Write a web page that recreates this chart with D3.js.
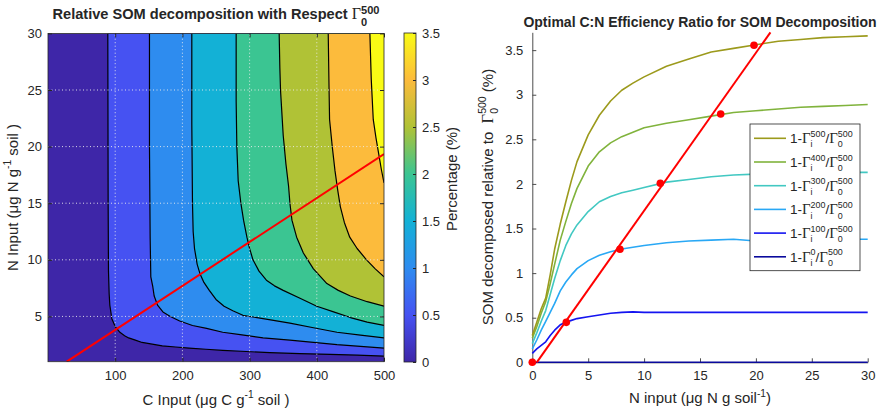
<!DOCTYPE html>
<html>
<head>
<meta charset="utf-8">
<script src="https://cdn.jsdelivr.net/npm/d3@7"></script>
<style>
  body { margin: 0; background: #fff; }
  text { font-family: "Liberation Sans", Arial, sans-serif; fill: #262626; white-space: pre; }
</style>
</head>
<body>
<svg id="chart"></svg>
<script>
const W = 896, H = 411;

// ---- left panel: contour lines, [C input, N input]
const contour05 = [[89,30],[89.5,15],[90,9],[91,7],[92,6],[95,4.8],[100,4.1],[107,3.6],[114,3.3],[120,3.1],[130,2.9],[140,2.7],[155,2.55],[170,2.4],[190,2.3],[210,2.2],[235,2.1],[260,2.0],[295,1.9],[330,1.8],[375,1.72],[420,1.65],[460,1.58],[500,1.5]];
const contour10 = [[151,30],[151,20],[152,12],[153,8.5],[156,7.6],[158,6.8],[163,6],[171,5.4],[182,5],[196,4.6],[215,4.2],[236,3.95],[260,3.6],[286,3.4],[320,3.1],[360,2.9],[395,2.7],[430,2.5],[465,2.35],[500,2.2]];
const contour15 = [[214,30],[214,22],[215,15],[216,12.5],[218,11],[222,9.6],[226,8.8],[232,8],[240,7.3],[250,6.5],[262,5.9],[275,5.5],[290,5.1],[320,4.8],[360,4.4],[395,4],[430,3.6],[465,3.35],[500,3.1]];
const contour20 = [[280,30],[280,24],[281,20],[283,17],[287,15],[291,13.5],[296,12],[300,11],[305,10],[314,9],[325,8.2],[337,7.7],[350,7.3],[375,6.6],[400,5.9],[425,5.4],[450,4.9],[475,4.5],[500,4.2]];
const contour25 = [[344,30],[345,27],[346,25],[348,23],[350,21],[354,18.5],[358,16.5],[360,15],[363,13.5],[370,12],[380,10.6],[395,9.2],[415,7.9],[432,7.3],[450,6.8],[475,6.3],[500,5.9]];
const contour30 = [[417,30],[418,26],[419,22.4],[423,20],[427,17.9],[431,16.2],[435,14.7],[441,13.3],[449,12],[460,11],[474,10],[487,9.2],[500,8.5]];
const contour35 = [[479,30],[481,26],[484,22.4],[488,20.8],[492,19.4],[496,18],[500,16.8]];
const contourLevels = [0.5, 1, 1.5, 2, 2.5, 3, 3.5];
const redLineLeft = [[27.8, 1], [500, 19.35]];
const cTicks = [100, 200, 300, 400, 500];
const nTicksLeft = [5, 10, 15, 20, 25, 30];
const cbTicks = [0, 0.5, 1, 1.5, 2, 2.5, 3, 3.5];

// ---- right panel
const nInput = [0, 0.4, 0.8, 1.2, 1.6, 2, 2.5, 3, 3.5, 4, 5, 6, 7, 8, 9, 10, 12, 14, 16, 18, 20, 22, 24, 26, 28, 30];
const som500 = [0.30,0.45,0.60,0.72,0.98,1.27,1.55,1.80,2.04,2.25,2.55,2.77,2.93,3.05,3.13,3.20,3.32,3.40,3.48,3.52,3.56,3.60,3.62,3.64,3.65,3.66];
const som400 = [0.27,0.40,0.55,0.68,0.88,1.10,1.37,1.58,1.78,1.95,2.20,2.36,2.46,2.53,2.58,2.63,2.68,2.72,2.76,2.80,2.82,2.84,2.86,2.87,2.88,2.89];
const som300 = [0.21,0.33,0.46,0.58,0.76,0.94,1.14,1.31,1.44,1.54,1.69,1.80,1.86,1.90,1.93,1.96,2.02,2.05,2.08,2.10,2.11,2.12,2.13,2.13,2.13,2.13];
const som200 = [0.15,0.25,0.36,0.46,0.56,0.66,0.80,0.90,0.98,1.05,1.14,1.20,1.24,1.27,1.29,1.31,1.34,1.36,1.37,1.38,1.36,1.36,1.37,1.38,1.38,1.38];
const som100 = [0.10,0.15,0.19,0.23,0.30,0.36,0.42,0.45,0.47,0.49,0.51,0.53,0.55,0.56,0.565,0.56,0.56,0.56,0.56,0.56,0.56,0.56,0.56,0.56,0.56,0.56];
const som0   = [0,0,0,0,0,0,0,0,0,0,0,0,0,0,0,0,0,0,0,0,0,0,0,0,0,0];
const cInputs = [500, 400, 300, 200, 100, 0];
const optimalN = [0, 3.04, 7.84, 11.45, 16.85, 19.83];
const optimalSom = [0, 0.448, 1.267, 2.007, 2.784, 3.554];
const redLineRight = [[0.4, 0], [21.3, 3.7]];
const nTicksRight = [0, 5, 10, 15, 20, 25, 30];
const somTicks = [0, 0.5, 1, 1.5, 2, 2.5, 3, 3.5];

const parula = ["#3e26a8","#4652f2","#2e8cef","#13b1d6","#3bc592","#b0c236","#fcbb3c","#f9fb15"];
const seriesColors = ["#9c9a1c","#80b33c","#42c8c2","#29a8f5","#1414f0","#0a0a9c"];

const svg = d3.select("#chart").attr("width", W).attr("height", H);

// text with tex-like super/subscripts
function rich(parent, segs, size, opts) {
  opts = Object.assign({weight: "normal", supDy: -0.42, subDy: 0.3, small: 0.68, gamma: 1}, opts || {});
  const g = parent.append("g");
  let x = 0;
  segs.forEach(s => {
    if (typeof s === "string") s = {t: s};
    if (s.sup != null || s.sub != null) {
      let w = 0;
      const fs = size * opts.small;
      if (s.sup != null) {
        const t = g.append("text").attr("x", x).attr("y", size * opts.supDy)
          .attr("font-size", fs).attr("font-weight", opts.weight).text(s.sup);
        w = Math.max(w, t.node().getComputedTextLength());
      }
      if (s.sub != null) {
        const t = g.append("text").attr("x", x).attr("y", size * opts.subDy)
          .attr("font-size", fs).attr("font-weight", opts.weight).text(s.sub);
        w = Math.max(w, t.node().getComputedTextLength());
      }
      x += w;
    } else {
      const t = g.append("text").attr("x", x).attr("font-size", s.serif ? size * opts.gamma : size)
        .attr("font-weight", s.serif ? "normal" : opts.weight).text(s.t);
      if (s.serif) t.style("font-family", "'Liberation Serif', 'DejaVu Serif', serif");
      x += t.node().getComputedTextLength();
    }
  });
  return {g, w: x};
}
function place(r, cx, cy, rot) {
  if (rot) r.g.attr("transform", `translate(${cx},${cy}) rotate(-90) translate(${-r.w / 2},0)`);
  else r.g.attr("transform", `translate(${cx - r.w / 2},${cy})`);
}
const GAMMA = {t: "\u0393", serif: true};

// ================= LEFT PANEL =================
const xL = d3.scaleLinear().domain([0, 500]).range([48, 384]);
const yL = d3.scaleLinear().domain([1, 30]).range([361.7, 33.4]);

svg.append("clipPath").attr("id", "clipL").append("rect")
  .attr("x", xL(0)).attr("y", yL(30)).attr("width", xL(500) - xL(0)).attr("height", yL(1) - yL(30));

const left = svg.append("g").attr("clip-path", "url(#clipL)");
left.append("rect")
  .attr("x", xL(0)).attr("y", yL(30)).attr("width", xL(500) - xL(0)).attr("height", yL(1) - yL(30))
  .attr("fill", parula[0]);

const contours = [contour05, contour10, contour15, contour20, contour25, contour30, contour35];
const lineL = d3.line().x(d => xL(d[0])).y(d => yL(d[1]));

contours.forEach((c, i) => {
  left.append("path")
    .attr("d", lineL(c.concat([[500, 30]])) + "Z")
    .attr("fill", parula[i + 1]);
});
contours.forEach(c => {
  left.append("path")
    .attr("d", lineL(c))
    .attr("fill", "none")
    .attr("stroke", "#000")
    .attr("stroke-width", 1.2)
    .attr("stroke-linejoin", "round");
});

// grid
left.append("g").selectAll("line").data(cTicks.slice(0, 4)).enter().append("line")
  .attr("x1", d => xL(d)).attr("x2", d => xL(d))
  .attr("y1", yL(1)).attr("y2", yL(30))
  .attr("stroke", "#ececec").attr("stroke-width", 0.9).attr("stroke-dasharray", "1,2.5");
left.append("g").selectAll("line").data(nTicksLeft.slice(0, 5)).enter().append("line")
  .attr("x1", xL(0)).attr("x2", xL(500))
  .attr("y1", d => yL(d)).attr("y2", d => yL(d))
  .attr("stroke", "#ececec").attr("stroke-width", 0.9).attr("stroke-dasharray", "1,2.5");

left.append("path")
  .attr("d", lineL(redLineLeft))
  .attr("stroke", "#ff0000").attr("stroke-width", 2).attr("fill", "none");

// axes (ticks inside, mirrored on top and right)
const axL = svg.append("g");
axL.append("g").attr("transform", `translate(0,${yL(1)})`)
  .call(d3.axisBottom(xL).tickValues(cTicks).tickSizeInner(-4).tickSizeOuter(0).tickPadding(9.5));
axL.append("g").attr("transform", `translate(0,${yL(30)})`)
  .call(d3.axisTop(xL).tickValues(cTicks).tickSizeInner(-4).tickSizeOuter(0).tickFormat(""));
axL.append("g").attr("transform", `translate(${xL(0)},0)`)
  .call(d3.axisLeft(yL).tickValues(nTicksLeft).tickSizeInner(-4).tickSizeOuter(0).tickPadding(6));
axL.append("g").attr("transform", `translate(${xL(500)},0)`)
  .call(d3.axisRight(yL).tickValues(nTicksLeft).tickSizeInner(-4).tickSizeOuter(0).tickFormat(""));
axL.selectAll(".domain").remove();
axL.selectAll(".tick text").attr("font-size", 13).attr("font-family", null);
axL.selectAll(".tick line").attr("stroke", "#262626");
svg.append("rect")
  .attr("x", xL(0)).attr("y", yL(30)).attr("width", xL(500) - xL(0)).attr("height", yL(1) - yL(30))
  .attr("fill", "none").attr("stroke", "#262626").attr("stroke-width", 0.8);

place(rich(svg, ["Relative SOM decomposition with Respect ", GAMMA, {sup: "500", sub: "0"}], 14.6,
  {weight: "bold", supDy: -0.32, subDy: 0.52, small: 0.76, gamma: 1.1}), 216, 18.5);
place(rich(svg, ["C Input (\u03bcg C g", {sup: "-1"}, " soil )"], 15), 216, 404.5);
place(rich(svg, ["N Input (\u03bcg N g", {sup: "-1"}, " soil )"], 15), 17.5, 197.5, true);

// colorbar
const cb = d3.scaleLinear().domain([0, 3.5]).range([362, 33]);
const grad = svg.append("defs").append("linearGradient").attr("id", "parula")
  .attr("x1", 0).attr("y1", 1).attr("x2", 0).attr("y2", 0);
parula.forEach((c, i) => grad.append("stop").attr("offset", i / (parula.length - 1)).attr("stop-color", c));
svg.append("rect").attr("x", 404).attr("y", cb(3.5)).attr("width", 12).attr("height", cb(0) - cb(3.5))
  .attr("fill", "url(#parula)").attr("stroke", "#262626").attr("stroke-width", 0.8);
const cbAxis = svg.append("g").attr("transform", "translate(416,0)")
  .call(d3.axisRight(cb).tickValues(cbTicks).tickFormat(d3.format("~g")).tickSizeInner(-3).tickSizeOuter(0).tickPadding(6))
  .call(g => g.select(".domain").remove());
cbAxis.selectAll(".tick text").attr("font-size", 13).attr("font-family", null);
cbAxis.selectAll(".tick line").attr("stroke", "#262626");
place(rich(svg, ["Percentage (%)"], 15), 457, 179, true);

// ================= RIGHT PANEL =================
const xR = d3.scaleLinear().domain([0, 30]).range([532.3, 867.7]);
const yR = d3.scaleLinear().domain([0, 3.7]).range([362.3, 32.3]);

const axR = svg.append("g");
axR.append("g").attr("transform", `translate(0,${yR(0)})`)
  .call(d3.axisBottom(xR).tickValues(nTicksRight).tickSizeInner(-4).tickSizeOuter(0).tickPadding(8.5));
axR.append("g").attr("transform", `translate(${xR(0)},0)`)
  .call(d3.axisLeft(yR).tickValues(somTicks).tickFormat(d3.format("~g")).tickSizeInner(-4).tickSizeOuter(0).tickPadding(9));
axR.selectAll(".tick text").attr("font-size", 13).attr("font-family", null);
axR.selectAll(".tick line, .domain").attr("stroke", "#4d4d4d");

const seriesData = [som500, som400, som300, som200, som100, som0];
const lineR = d3.line().x((d, i) => xR(nInput[i])).y(d => yR(d));
const plotR = svg.append("g");
seriesData.slice().reverse().forEach((s, k) => {
  const i = seriesData.length - 1 - k;
  plotR.append("path").attr("d", lineR(s))
    .attr("fill", "none").attr("stroke", seriesColors[i]).attr("stroke-width", 1.6)
    .attr("stroke-linejoin", "round");
});
plotR.append("path")
  .attr("d", d3.line().x(d => xR(d[0])).y(d => yR(d[1]))(redLineRight))
  .attr("stroke", "#ff0000").attr("stroke-width", 2).attr("fill", "none");
plotR.append("g").selectAll("circle").data(optimalN).enter().append("circle")
  .attr("cx", d => xR(d)).attr("cy", (d, i) => yR(optimalSom[i]))
  .attr("r", 3.8).attr("fill", "#ff0000");

// legend
const leg = svg.append("g");
leg.append("rect").attr("x", 750).attr("y", 124).attr("width", 110).attr("height", 146.7)
  .attr("fill", "#fff").attr("stroke", "#262626").attr("stroke-width", 0.8);
cInputs.forEach((c, i) => {
  const ly = 138.3 + i * 23.7;
  leg.append("line").attr("x1", 754).attr("x2", 786).attr("y1", ly).attr("y2", ly)
    .attr("stroke", seriesColors[i]).attr("stroke-width", 1.6);
  const r = rich(leg, ["1-", GAMMA, {sup: String(c), sub: "i"}, "/", GAMMA, {sup: "500", sub: "0"}], 13.5,
    {supDy: -0.46, subDy: 0.32, small: 0.66, gamma: 1.1});
  r.g.attr("transform", `translate(790,${ly + 4.8})`);
});

place(rich(svg, ["Optimal C:N Efficiency Ratio for SOM Decomposition"], 14, {weight: "bold"}), 700, 26.5);
place(rich(svg, ["N input (\u03bcg N g soil", {sup: "-1"}, ")"], 15), 700, 403);
place(rich(svg, ["SOM decomposed relative to  ", GAMMA, {sup: "500", sub: "0"}, " (%)"], 15,
  {supDy: -0.5, subDy: 0.35, small: 0.7, gamma: 1.1}), 493, 197, true);
</script>
</body>
</html>
